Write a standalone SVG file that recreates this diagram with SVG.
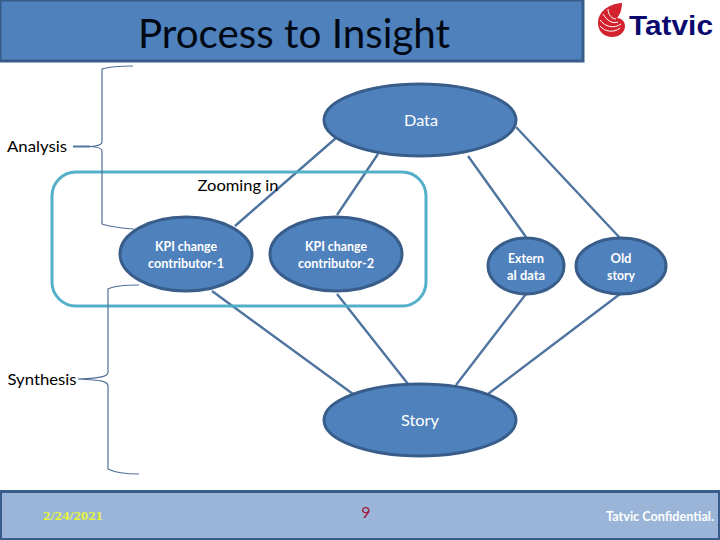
<svg xmlns="http://www.w3.org/2000/svg" width="720" height="540" viewBox="0 0 720 540">
<style>
text{font-family:Lato,"Open Sans","Liberation Sans",sans-serif;text-anchor:middle}
.n{fill:#4f81bd;stroke:#385d8a;stroke-width:3}
.c{fill:none;stroke:#4f749f;stroke-width:2.4}
.b{fill:none;stroke:#4f6f96;stroke-width:1.2}
.w{fill:#fff}
.k{fill:#000}
.s{font-size:13px;font-weight:700}
.m{font-size:16px}
</style>
<rect width="720" height="540" fill="#fff"/>
<g id="title"><rect x="0" y="0" width="583" height="61" fill="#4f81bd" stroke="#385d8a" stroke-width="3"/>
<text x="294" y="48" font-size="41" fill="#000814" textLength="312" lengthAdjust="spacingAndGlyphs">Process to Insight</text></g>
<g id="logo">
<path d="M622 3C607 4 598 13 598 23C598 32 605 37 612 37C620 37 625 32 625 26C625 21 621 18 617 18C620 15 622 9 622 3Z" fill="#d2232f"/>
<path d="M600 26C605 32 614 33 620 28M600 20C605 27 614 29 621 24M603 14C607 21 613 24 618 22M608 9C608 15 612 19 616 19" fill="none" stroke="#fff" stroke-width="1"/>
<text x="671" y="35" font-size="28" font-weight="700" fill="#0b0b6f" style="font-family:'Liberation Sans',sans-serif" textLength="84" lengthAdjust="spacingAndGlyphs">Tatvic</text></g>
<g id="connectors">
<path class="c" d="M336 138L235 226M378 154L337 215M468 156L526 237M516 127L620 238M212 291L353 394M337 294L408 384M526 294L456 385M620 294L488 394"/>
<path class="c" style="stroke-width:2" d="M73 146.500H90"/>
</g>
<g id="zoom-box"><rect x="52" y="172" width="374" height="134" rx="24" fill="none" stroke="#4bacc6" stroke-width="3" opacity=".95"/>
<text x="238" y="191" class="m k" textLength="81" lengthAdjust="spacingAndGlyphs">Zooming in</text></g>
<g id="analysis-brace"><path class="b" d="M133 66C118 66 108 67 102 69V142C102 145 98 146 90 146.500C98 147 102 148 102 151V224C108 226 118 228 134 229"/>
<text x="37" y="152" class="m k" textLength="60" lengthAdjust="spacingAndGlyphs">Analysis</text></g>
<g id="synthesis-brace"><path class="b" d="M139 285C124 285 114 286 108 289V372C108 376 104 378 78 379C104 380 108 382 108 386V469C114 472 124 474 139 474"/>
<text x="42" y="385" class="m k" textLength="69" lengthAdjust="spacingAndGlyphs">Synthesis</text></g>
<g id="data"><ellipse class="n" cx="420" cy="120" rx="96" ry="36"/><text x="421" y="126" class="w" font-size="16" textLength="34" lengthAdjust="spacingAndGlyphs">Data</text></g>
<g id="kpi1"><ellipse class="n" cx="186" cy="254" rx="66" ry="37"/><text x="186" y="251" class="w s" textLength="62" lengthAdjust="spacingAndGlyphs">KPI change</text><text x="186" y="268" class="w s" textLength="76" lengthAdjust="spacingAndGlyphs">contributor-1</text></g>
<g id="kpi2"><ellipse class="n" cx="336" cy="254" rx="66" ry="37"/><text x="336" y="251" class="w s" textLength="62" lengthAdjust="spacingAndGlyphs">KPI change</text><text x="336" y="268" class="w s" textLength="76" lengthAdjust="spacingAndGlyphs">contributor-2</text></g>
<g id="external"><ellipse class="n" cx="526" cy="266" rx="38" ry="28"/><text x="526" y="263" class="w s" textLength="36" lengthAdjust="spacingAndGlyphs">Extern</text><text x="526" y="280" class="w s" textLength="38" lengthAdjust="spacingAndGlyphs">al data</text></g>
<g id="old-story"><ellipse class="n" cx="621" cy="266" rx="45" ry="28"/><text x="621" y="263" class="w s">Old</text><text x="621" y="280" class="w s" textLength="28" lengthAdjust="spacingAndGlyphs">story</text></g>
<g id="story"><ellipse class="n" cx="420" cy="420" rx="96" ry="36"/><text x="420" y="426" class="w" font-size="16" textLength="38" lengthAdjust="spacingAndGlyphs">Story</text></g>
<g id="footer"><rect x="1" y="492" width="718" height="47" fill="#9ab5d8" stroke="#385d8a" stroke-width="2"/>
<path d="M0 491.500H720" stroke="#385d8a" stroke-width="3"/>
<text x="73" y="520" font-size="13" font-weight="700" fill="#e6f53a" style="font-family:'Liberation Serif',serif" textLength="60" lengthAdjust="spacingAndGlyphs">2/24/2021</text>
<text x="366" y="518" font-size="16" fill="#a5173c">9</text>
<text x="660" y="521" font-size="13" font-weight="700" fill="#fff" textLength="108" lengthAdjust="spacingAndGlyphs">Tatvic Confidential.</text></g>
</svg>
